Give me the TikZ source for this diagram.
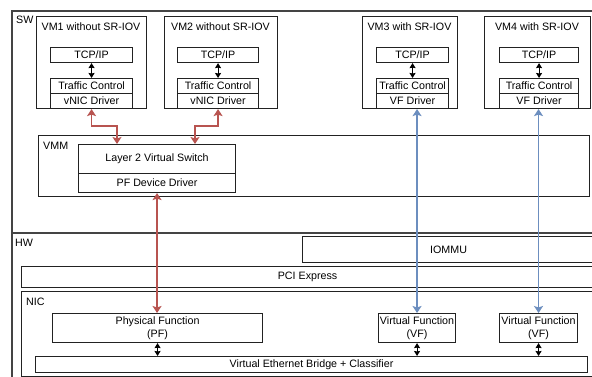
\documentclass[tikz,border=0pt]{standalone}
\usepackage{fontspec}
\setmainfont{Liberation Sans}
\usetikzlibrary{arrows.meta,calc}
\definecolor{redc}{HTML}{B85450}
\definecolor{bluec}{HTML}{6C8EBF}
\definecolor{linec}{HTML}{222222}
\definecolor{outerc}{HTML}{444444}
\begin{document}
\begin{tikzpicture}[x=1pt,y=-1pt,
  box/.style={draw=linec, line width=1.1pt, rectangle, inner sep=0pt, anchor=north west,
    font=\fontsize{10.7}{13}\selectfont, align=center},
  outerbox/.style={draw=outerc, line width=1.7pt, rectangle, inner sep=0pt, anchor=north west},
  lbl/.style={font=\fontsize{10.7}{13}\selectfont, inner sep=0pt},
  redarr/.style={draw=redc, line width=1.8pt, {Stealth[length=7pt,width=9pt,inset=1.5pt]}-{Stealth[length=7pt,width=9pt,inset=1.5pt]}},
  bluearr/.style={draw=bluec, line width=1.8pt, {Stealth[length=7pt,width=9pt,inset=1.5pt]}-{Stealth[length=7pt,width=9pt,inset=1.5pt]}},
  blkarr/.style={draw=black, line width=1.1pt, {Stealth[length=5pt,width=6pt,inset=0.5pt]}-{Stealth[length=5pt,width=6pt,inset=0.5pt]}},
]
\useasboundingbox (0,0) rectangle (592,377);
\clip (0,0) rectangle (592,377);
\fill[white] (0,0) rectangle (592,377);

% outer regions
\node[outerbox, minimum width=585pt, minimum height=222pt] (sw) at (11,10) {};
\node[outerbox, minimum width=585pt, minimum height=160pt] (hw) at (11,232) {};
\node[lbl, anchor=west] (swl) at (16,20) {SW};
\node[lbl, anchor=west] (hwl) at (15,243) {HW};

% VMs
\node[box, minimum width=110pt, minimum height=92pt] (vm1) at (36,16) {};
\node[box, minimum width=113pt, minimum height=92pt] (vm2) at (164,16) {};
\node[box, minimum width=95pt, minimum height=92pt] (vm3) at (362,16) {};
\node[box, minimum width=106pt, minimum height=92pt] (vm4) at (484,16) {};
\node[lbl] (vm1t) at (91,26.5) {VM1 without SR-IOV};
\node[lbl] (vm2t) at (220.5,26.5) {VM2 without SR-IOV};
\node[lbl] (vm3t) at (409.5,26.5) {VM3 with SR-IOV};
\node[lbl] (vm4t) at (537,26.5) {VM4 with SR-IOV};

\node[box, minimum width=82pt, minimum height=15pt] (tcp1) at (50,47) {TCP/IP};
\node[box, minimum width=82pt, minimum height=15pt] (tc1) at (50,78) {Traffic Control};
\node[box, minimum width=82pt, minimum height=15pt] (vnic1) at (50,93) {vNIC Driver};

\node[box, minimum width=81pt, minimum height=15pt] (tcp2) at (177,47) {TCP/IP};
\node[box, minimum width=81pt, minimum height=15pt] (tc2) at (177,78) {Traffic Control};
\node[box, minimum width=81pt, minimum height=15pt] (vnic2) at (177,93) {vNIC Driver};

\node[box, minimum width=72pt, minimum height=15pt] (tcp3) at (376,47) {TCP/IP};
\node[box, minimum width=72pt, minimum height=15pt] (tc3) at (376,78) {Traffic Control};
\node[box, minimum width=72pt, minimum height=15pt] (vfd3) at (376,93) {VF Driver};

\node[box, minimum width=79pt, minimum height=15pt] (tcp4) at (499,47) {TCP/IP};
\node[box, minimum width=79pt, minimum height=15pt] (tc4) at (499,78) {Traffic Control};
\node[box, minimum width=79pt, minimum height=15pt] (vfd4) at (499,93) {VF Driver};

% VMM
\node[box, minimum width=551pt, minimum height=61pt] (vmm) at (38,135) {};
\node[lbl, anchor=west] (vmml) at (43,146) {VMM};
\node[box, minimum width=157pt, minimum height=29pt] (l2) at (78,144) {Layer 2 Virtual Switch};
\node[box, minimum width=157pt, minimum height=19pt] (pfdd) at (78,173) {PF Device Driver};

% HW
\node[box, minimum width=292pt, minimum height=26pt] (iommu) at (302,236) {IOMMU};
\node[box, minimum width=572pt, minimum height=21pt] (pci) at (21,266) {PCI Express};
\node[box, minimum width=573pt, minimum height=85pt] (nic) at (21,291) {};
\node[lbl, anchor=west] (nicl) at (26,302) {NIC};
\node[box, minimum width=210pt, minimum height=29pt] (pf) at (52,313) {Physical Function\\(PF)};
\node[box, minimum width=77pt, minimum height=29pt] (vf1) at (378,313) {Virtual Function\\(VF)};
\node[box, minimum width=78pt, minimum height=29pt] (vf2) at (499,313) {Virtual Function\\(VF)};
\node[box, minimum width=552pt, minimum height=16pt] (br) at (35,356) {Virtual Ethernet Bridge + Classifier};

% small black arrows
\draw[blkarr] (tcp1.south) -- (tc1.north);
\draw[blkarr] (tcp2.south) -- (tc2.north);
\draw[blkarr] (tcp3.south) -- (tc3.north);
\draw[blkarr] (tcp4.south) -- (tc4.north);
\draw[blkarr] (pf.south) -- (pf.south |- br.north);
\draw[blkarr] (vf1.south) -- (vf1.south |- br.north);
\draw[blkarr] (vf2.south) -- (vf2.south |- br.north);

% red connectors
\draw[redarr] (vnic1.south) -- ++(0,17) -| ([xshift=39pt]l2.north west);
\draw[redarr] (vnic2.south) -- ++(0,17) -| ([xshift=117pt]l2.north west);
\draw[redarr] (pfdd.south) -- (pfdd.south |- pf.north);

% blue connectors
\draw[bluearr] (vf1.north) -- (vf1.north |- vfd3.south);
\draw[bluearr] (vf2.north) -- (vf2.north |- vfd4.south);
\end{tikzpicture}
\end{document}
